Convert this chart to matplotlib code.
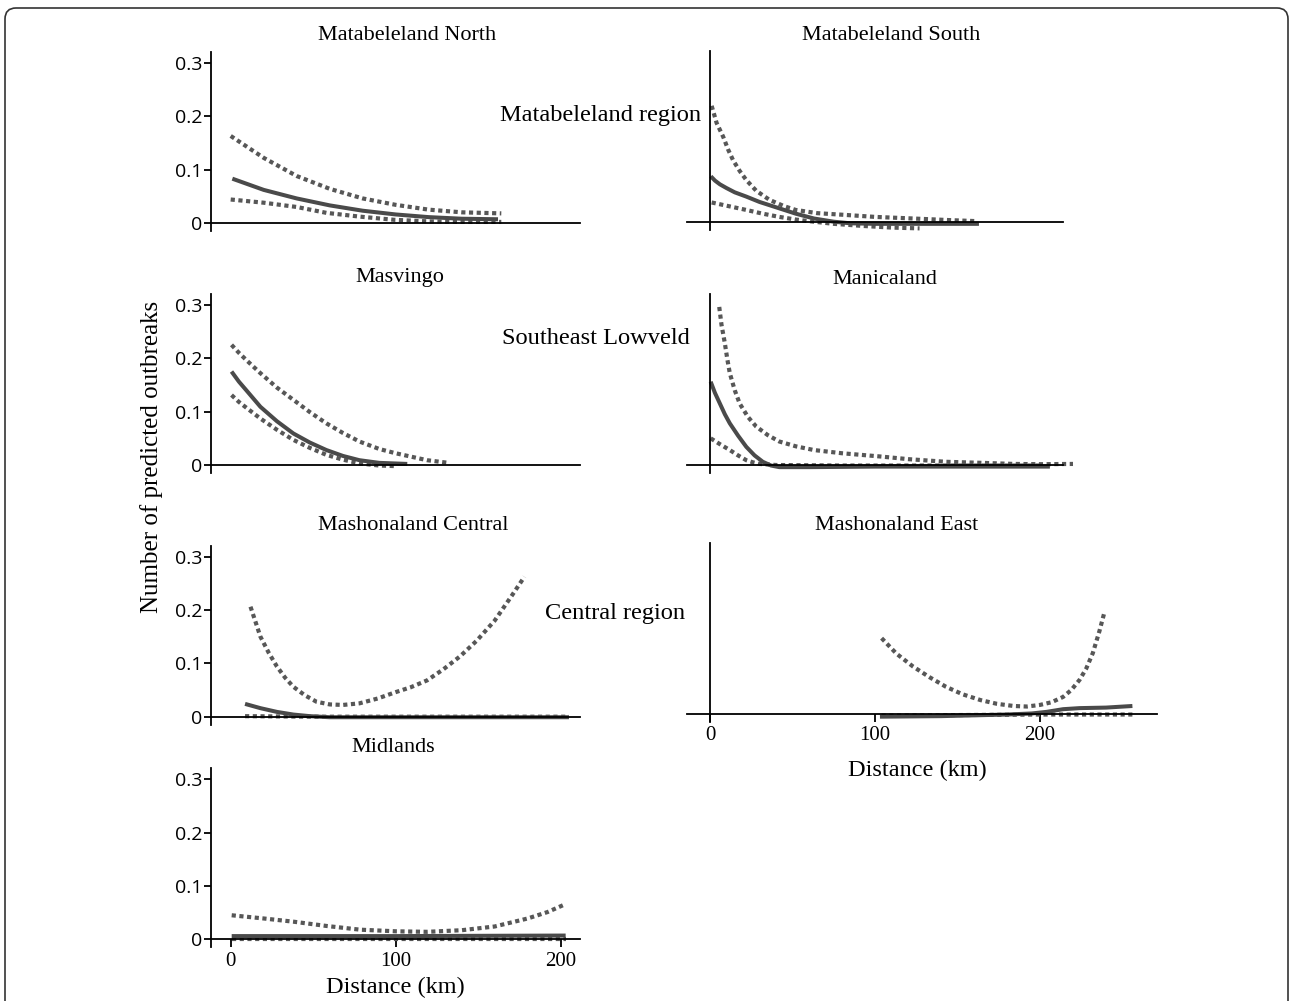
import matplotlib
matplotlib.use("Agg")
import matplotlib.pyplot as plt
from matplotlib.patches import FancyBboxPatch

# ---- data: distance (km) and predicted outbreaks ----
# Matabeleland North
mn_fit_km = [1, 20, 40, 60, 80, 100, 120, 140, 162]
mn_fit = [0.083, 0.062, 0.046, 0.033, 0.023, 0.016, 0.011, 0.008, 0.007]
mn_up_km = [0, 20, 40, 60, 80, 100, 120, 140, 164]
mn_up = [0.163, 0.122, 0.088, 0.064, 0.046, 0.034, 0.025, 0.020, 0.018]
mn_lo_km = [0, 20, 40, 58, 78, 99, 120, 140, 164]
mn_lo = [0.044, 0.038, 0.030, 0.019, 0.012, 0.006, 0.003, 0.002, 0.002]

# Matabeleland South
ms_fit_km = [0.5, 3, 6, 10, 15, 22, 30, 42, 52, 63, 75, 85, 100, 130, 163]
ms_fit = [0.085, 0.077, 0.070, 0.063, 0.055, 0.047, 0.037, 0.025, 0.015,
          0.006, 0.0, -0.003, -0.004, -0.004, -0.004]
ms_up_km = [1, 4, 8, 11, 14, 18, 22, 28, 36, 45, 52, 65, 83, 100, 123, 145, 162]
ms_up = [0.217, 0.185, 0.159, 0.135, 0.115, 0.095, 0.078, 0.058, 0.041,
         0.029, 0.022, 0.016, 0.0125, 0.009, 0.006, 0.003, 0.001]
ms_lo_km = [1, 10, 22, 32, 42, 52, 63, 75, 93, 110, 127]
ms_lo = [0.036, 0.030, 0.022, 0.015, 0.009, 0.004, 0.0, -0.004, -0.008,
         -0.011, -0.0125]

# Masvingo
mv_fit_km = [0.5, 5, 10, 18, 28, 38, 48, 58, 68, 78, 90, 107]
mv_fit = [0.175, 0.156, 0.138, 0.109, 0.082, 0.059, 0.042, 0.028, 0.017,
          0.009, 0.004, 0.002]
mv_up_km = [0.5, 5, 10, 18, 28, 38, 48, 58, 68, 78, 90, 100, 119, 132]
mv_up = [0.225, 0.210, 0.195, 0.172, 0.145, 0.122, 0.099, 0.078, 0.060,
         0.044, 0.030, 0.022, 0.009, 0.004]
mv_lo_km = [0.5, 5, 10, 18, 28, 38, 48, 58, 68, 78, 90, 99]
mv_lo = [0.131, 0.118, 0.106, 0.087, 0.066, 0.047, 0.032, 0.019, 0.010,
         0.003, -0.001, -0.002]

# Manicaland
mc_fit_km = [0.4, 3, 6, 9, 12, 17, 22, 27, 32, 37, 42, 60, 100, 150, 206]
mc_fit = [0.156, 0.135, 0.115, 0.095, 0.078, 0.055, 0.034, 0.018, 0.006,
          -0.001, -0.004, -0.004, -0.003, -0.003, -0.003]
mc_up_km = [5.6, 7, 9, 10.5, 12, 15, 18, 23, 28, 35, 42, 52, 63, 80, 103,
            120, 143, 165, 184, 200, 220]
mc_up = [0.296, 0.262, 0.228, 0.198, 0.172, 0.140, 0.115, 0.090, 0.072,
         0.056, 0.044, 0.035, 0.028, 0.022, 0.016, 0.011, 0.006, 0.004,
         0.002, 0.0015, 0.002]
mc_lo_km = [0.4, 6, 12, 17, 22, 26, 30, 40, 80, 120, 160, 200]
mc_lo = [0.050, 0.039, 0.028, 0.018, 0.009, 0.005, 0.002, 0.0, -0.001,
         -0.001, -0.001, -0.001]

# Mashonaland Central
mhc_fit_km = [8.7, 18, 28, 38, 48, 60, 100, 150, 205]
mhc_fit = [0.024, 0.016, 0.009, 0.004, 0.001, -0.001, -0.001, -0.001, -0.001]
mhc_up_km = [12, 15, 18, 23, 28, 33, 38, 45, 52, 60, 68, 78, 89, 100, 109,
             119, 129, 139, 149, 160, 170, 178]
mhc_up = [0.206, 0.178, 0.150, 0.120, 0.094, 0.073, 0.056, 0.040, 0.028,
          0.023, 0.022, 0.025, 0.034, 0.046, 0.055, 0.068, 0.089, 0.113,
          0.142, 0.180, 0.225, 0.262]
mhc_lo_km = [8.7, 50, 100, 150, 205]
mhc_lo = [0.001, 0.0, 0.0, 0.0, 0.0]

# Mashonaland East
mhe_fit_km = [103, 140, 180, 195, 204, 214, 224, 240, 256]
mhe_fit = [-0.005, -0.004, -0.001, 0.001, 0.004, 0.009, 0.011, 0.012, 0.015]
mhe_up_km = [104, 113, 123, 133, 143, 153, 164, 174, 184, 192, 200, 207,
             214, 219, 224, 228, 232, 236, 239]
mhe_up = [0.142, 0.113, 0.089, 0.069, 0.051, 0.037, 0.026, 0.019, 0.015,
          0.014, 0.017, 0.022, 0.032, 0.045, 0.064, 0.085, 0.114, 0.155, 0.19]
mhe_lo_km = [104, 150, 200, 256]
mhe_lo = [-0.003, -0.002, -0.001, -0.001]

# Midlands
md_fit_km = [0.6, 100, 203]
md_fit = [0.006, 0.006, 0.007]
md_up_km = [0.6, 20, 38, 58, 78.5, 100, 119, 140, 160, 180, 192, 203]
md_up = [0.045, 0.039, 0.033, 0.025, 0.018, 0.015, 0.014, 0.017, 0.024,
         0.039, 0.051, 0.066]
md_lo_km = [0.6, 100, 203]
md_lo = [0.0005, 0.0005, 0.0005]

y_ticks = [0, 0.1, 0.2, 0.3]
y_tick_labels = ["0", "0.1", "0.2", "0.3"]
x_ticks = [0, 100, 200]

# ---- layout (pixels of the 1290x1001 output) ----
W, H = 1290, 1001
PX_KM = 1.65
PX_UNIT = 534
YLIM = (-0.015, 0.32)
SERIF = "Liberation Serif"
SANS = "Open Sans"
FIT_COLOR = "#4a4a4a"
CI_COLOR = "#575757"

fig = plt.figure(figsize=(W / 100, H / 100), dpi=100)

# name, left col?, x of 0 km, y of 0 value, xlim, title xy, x ticks?, series
panels = [
    ("Matabeleland North", True, 230.7, 223.0, (-12, 212), (407, 35), False,
     (mn_fit_km, mn_fit), (mn_up_km, mn_up), (mn_lo_km, mn_lo)),
    ("Matabeleland South", False, 710.0, 221.7, (-14.1, 214), (891, 35), False,
     (ms_fit_km, ms_fit), (ms_up_km, ms_up), (ms_lo_km, ms_lo)),
    ("Masvingo", True, 230.7, 465.0, (-12, 212), (400, 278), False,
     (mv_fit_km, mv_fit), (mv_up_km, mv_up), (mv_lo_km, mv_lo)),
    ("Manicaland", False, 710.0, 465.0, (-14.1, 214), (885, 279), False,
     (mc_fit_km, mc_fit), (mc_up_km, mc_up), (mc_lo_km, mc_lo)),
    ("Mashonaland Central", True, 230.7, 716.7, (-12, 212), (413, 525), False,
     (mhc_fit_km, mhc_fit), (mhc_up_km, mhc_up), (mhc_lo_km, mhc_lo)),
    ("Mashonaland East", False, 710.0, 714.0, (-14.1, 271), (897, 525), True,
     (mhe_fit_km, mhe_fit), (mhe_up_km, mhe_up), (mhe_lo_km, mhe_lo)),
    ("Midlands", True, 230.7, 939.3, (-12, 212), (393, 748), True,
     (md_fit_km, md_fit), (md_up_km, md_up), (md_lo_km, md_lo)),
]

for (name, left_col, zero_x, zero_y, xlim, title_xy, show_x,
     fit, upper, lower) in panels:
    left_px = zero_x + xlim[0] * PX_KM
    width_px = (xlim[1] - xlim[0]) * PX_KM
    height_px = (YLIM[1] - YLIM[0]) * PX_UNIT
    bottom_px = zero_y - YLIM[0] * PX_UNIT
    ax = fig.add_axes([left_px / W, 1 - bottom_px / H, width_px / W, height_px / H])
    ax.set_xlim(*xlim)
    ax.set_ylim(*YLIM)
    ax.patch.set_visible(False)

    for km, vals in (upper, lower):
        ax.plot(km, vals, color=CI_COLOR, lw=3.0, linestyle=(0, (1.0, 0.85)),
                dash_capstyle="butt", clip_on=False)
    ax.plot(fit[0], fit[1], color=FIT_COLOR, lw=2.9, solid_capstyle="butt",
            clip_on=False)

    for s in ("top", "right"):
        ax.spines[s].set_visible(False)
    ax.spines["bottom"].set_position(("data", 0))
    if left_col:
        ax.spines["left"].set_position(("axes", 0))
    else:
        ax.spines["left"].set_position(("data", 0))
    for s in ("left", "bottom"):
        ax.spines[s].set_linewidth(1.3)
        ax.spines[s].set_color("black")

    if left_col:
        ax.set_yticks(y_ticks)
        ax.set_yticklabels(y_tick_labels, fontfamily=SANS, fontsize=14)
        ax.tick_params(axis="y", direction="out", length=5, width=1.3, pad=1)
    else:
        ax.set_yticks([])

    if show_x:
        ax.set_xticks(x_ticks)
        ax.set_xticklabels([str(t) for t in x_ticks], fontfamily=SERIF, fontsize=15)
        ax.tick_params(axis="x", direction="out", length=6, width=1.3, pad=3)
    else:
        ax.set_xticks([])

    fig.text(title_xy[0] / W, 1 - title_xy[1] / H, name, ha="center", va="center",
             fontfamily=SERIF, fontsize=16)

# region labels
region_names = ["Matabeleland region", "Southeast Lowveld", "Central region"]
region_xy = [(701, 116), (690, 339), (685, 614)]
for txt, (x, y) in zip(region_names, region_xy):
    fig.text(x / W, 1 - y / H, txt, ha="right", va="center",
             fontfamily=SERIF, fontsize=17.6)

fig.text(152 / W, 1 - 457 / H, "Number of predicted outbreaks", rotation=90,
         ha="center", va="center", fontfamily=SERIF, fontsize=18)
fig.text(395 / W, 1 - 987 / H, "Distance (km)", ha="center", va="center",
         fontfamily=SERIF, fontsize=17.5)
fig.text(917 / W, 1 - 770 / H, "Distance (km)", ha="center", va="center",
         fontfamily=SERIF, fontsize=17.5)

# rounded frame around the whole figure (runs off the bottom edge)
frame = FancyBboxPatch((5, -30), 1283, 1001 - 8 + 30,
                       boxstyle="round,pad=0,rounding_size=11",
                       transform=None, fill=False, edgecolor="#333333", lw=1.2)
fig.patches.append(frame)

fig.savefig("out.png", dpi=100)
